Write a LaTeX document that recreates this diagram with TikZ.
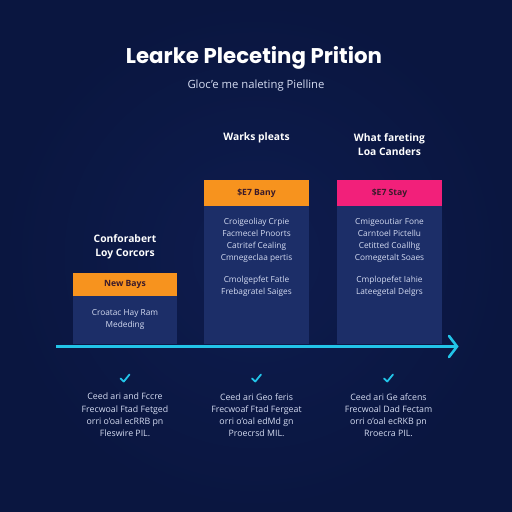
\documentclass[tikz,border=0pt]{standalone}
\usepackage{fontspec}
\setmainfont{Open Sans}
\newfontfamily\titlefont{Poppins}
\usetikzlibrary{arrows.meta}
\definecolor{bgin}{HTML}{0E1C4E}
\definecolor{bgout}{HTML}{0A1640}
\definecolor{boxbody}{HTML}{1C2E68}
\definecolor{orng}{HTML}{F7931E}
\definecolor{pnk}{HTML}{F2207A}
\definecolor{cyanline}{HTML}{22C4E8}
\definecolor{hdtext}{HTML}{3A1A2A}
\definecolor{bodytext}{HTML}{D5DCF2}
\tikzset{
  bodybox/.style={fill=boxbody, draw=none},
  headbox/.style={draw=none},
  hdlabel/.style={font=\fontsize{8.6}{9}\selectfont\bfseries, text=hdtext},
  bodylabel/.style={font=\fontsize{8.3}{12}\selectfont, text=bodytext, align=center},
  collabel/.style={font=\fontsize{10.3}{14}\selectfont\bfseries, text=white, align=center},
  footlabel/.style={font=\fontsize{8.8}{12.2}\selectfont, text=bodytext, align=center},
  checkmark/.style={draw=cyanline, line width=1.8pt, line cap=round, line join=round}
}
\begin{document}
\begin{tikzpicture}[x=1pt, y=-1pt]
\useasboundingbox (0,0) rectangle (512,512);
\shade[inner color=bgin, outer color=bgout] (0,0) rectangle (512,512);

% title
\node (title) at (254,58) {\titlefont\fontsize{21.3}{24}\selectfont\bfseries\color{white}Learke Pleceting Prition};
\node (subtitle) at (256,86) {\fontsize{11.3}{13}\selectfont\color{bodytext}Gloc'e me naleting Pielline};

% column 1
\fill[bodybox] (73,296) rectangle (177,344);
\fill[orng] (73,273) rectangle (177,296);
\node[hdlabel] (h1) at (125,284.5) {New Bays};
\node[bodylabel] (b1) at (125,319) {Croatac Hay Ram\\Mededing};
\node[collabel] (l1) at (125,247) {Conforabert\\Loy Corcors};

% column 2
\fill[bodybox] (204,206) rectangle (309,344);
\fill[orng] (204,180) rectangle (309,206);
\node[hdlabel] (h2) at (256.5,193) {\$E7 Bany};
\node[bodylabel] (b2a) at (256.5,240) {Croigeoliay Crpie\\Facmecel Pnoorts\\Catritef Cealing\\Cmnegeclaa pertis};
\node[bodylabel] (b2b) at (256.5,286) {Cmolgepfet Fatle\\Frebagratel Saiges};
\node[collabel] (l2) at (256.5,138) {Warks pleats};

% column 3
\fill[bodybox] (337,206) rectangle (442,344);
\fill[pnk] (337,180) rectangle (442,206);
\node[hdlabel] (h3) at (389.5,193) {\$E7 Stay};
\node[bodylabel] (b3a) at (389.5,240) {Cmigeoutiar Fone\\Carntoel Pictellu\\Cetitted Coallhg\\Comegetalt Soaes};
\node[bodylabel] (b3b) at (389.5,286) {Cmplopefet Iahie\\Lateegetal Delgrs};
\node[collabel] (l3) at (389.5,145) {What fareting\\Loa Canders};

% timeline arrow
\coordinate (ta) at (56,346.5);
\coordinate (tb) at (457,346.5);
\draw[cyanline, line width=2.6pt] (ta) -- (tb);
\draw[cyanline, line width=2.6pt, line cap=round, line join=miter] (449,336) -- (tb) -- (449,357);

% checkmarks
\foreach \cx/\nm in {125/c1, 256.5/c2, 388.5/c3}{
  \coordinate (\nm) at (\cx,378);
  \draw[checkmark] ([xshift=-4.5pt,yshift=-0.5pt]\nm) -- ([xshift=-1.2pt,yshift=-3.5pt]\nm) -- ([xshift=4.5pt,yshift=3.5pt]\nm);
}

% footer texts
\node[footlabel] (f1) at (125,415) {Ceed ari and Fccre\\Frecwoal Ftad Fetged\\orri o'oal ecRRB pn\\Fleswire PIL.};
\node[footlabel] (f2) at (256.5,415) {Ceed ari Geo feris\\Frecwoaf Ftad Fergeat\\orri o'oal edMd gn\\Proecrsd MIL.};
\node[footlabel] (f3) at (388.5,415) {Ceed ari Ge afcens\\Frecwoal Dad Fectam\\orri o'oal ecRKB pn\\Rroecra PIL.};
\end{tikzpicture}
\end{document}
